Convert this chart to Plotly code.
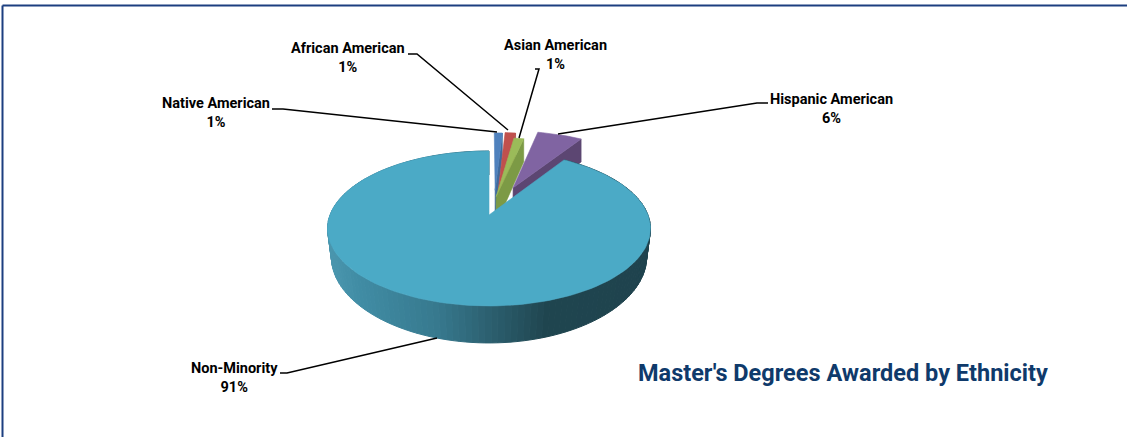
import math
import plotly.graph_objects as go

# ---- data ----
categories = ["Native American", "African American", "Asian American", "Hispanic American", "Non-Minority"]
percent_values = [1.0, 1.3, 1.2, 5.6, 90.9]
top_colors = ["#4F81BD", "#C0504D", "#9BBB59", "#8064A2", "#4BAAC6"]
face_colors = ["#3F6A9C", "#9E403D", "#7C9A45", "#5C4672", "#2D6171"]
explosions = [0.35, 0.36, 0.26, 0.42, 0.0]
side_shifts = [0.03, 0.025, 0.0, 0.0, 0.0]
chart_title = "Master's Degrees Awarded by Ethnicity"

# ---- projection of the tilted pie (pixel-like axes) ----
APEX_X, APEX_Y, K, A, B = 489.0, 215.0, 0.174, 75.1, 159.0
FONT = "Roboto, Liberation Sans, Arial"


def project(u, v):
    w = 1 + K * v
    return APEX_X + B * u / w, APEX_Y - A * v / w


def drop(x, y):
    s = 1 - 0.00027 * (y - 139)
    return APEX_X + s * (x - APEX_X), y + 23 + 0.084 * (y - 139)


def hex_rgb(c):
    return tuple(int(c[i:i + 2], 16) for i in (1, 3, 5))


RIM_STOPS = [(330, "#4A96AE"), (357, "#418DA5"), (437, "#37798E"), (487, "#2D6171"), (547, "#204650"), (650, "#1F434E")]


def rim_color(x):
    for (x0, c0), (x1, c1) in zip(RIM_STOPS, RIM_STOPS[1:]):
        if x <= x1:
            t = max(0, (x - x0) / (x1 - x0))
            a, b = hex_rgb(c0), hex_rgb(c1)
            return "rgb(%d,%d,%d)" % tuple(a[i] + t * (b[i] - a[i]) for i in range(3))
    return RIM_STOPS[-1][1]


fig = go.Figure()


def poly(pts, fill, line=None, width=0.6):
    xs = [p[0] for p in pts] + [pts[0][0]]
    ys = [p[1] for p in pts] + [pts[0][1]]
    fig.add_trace(go.Scatter(x=xs, y=ys, mode="lines", fill="toself", fillcolor=fill,
                             line=dict(color=line or fill, width=width),
                             hoverinfo="skip", showlegend=False))


total = sum(percent_values)
start = 0.0
for i, (name, val) in enumerate(zip(categories, percent_values)):
    end = start + val / total * 360
    a0, a1 = math.radians(start), math.radians(end)
    mid = (a0 + a1) / 2
    e = explosions[i]
    du = side_shifts[i] + e * math.sin(mid)
    dv = e * math.cos(mid)
    n = max(3, int((end - start) / 2))
    angles = [a0 + (a1 - a0) * j / n for j in range(n + 1)]
    arc = [project(du + math.sin(a), dv + math.cos(a)) for a in angles]
    apex = project(du, dv)
    if i < 4:
        poly([apex, arc[-1], drop(*arc[-1]), drop(*apex)], face_colors[i])
        poly([apex] + arc, top_colors[i])
    else:
        for p, q in zip(arc, arc[1:]):
            poly([p, q, drop(*q), drop(*p)], rim_color((p[0] + q[0]) / 2), width=1)
        poly([apex] + arc, top_colors[i])
    start = end

# leader lines
leaders = [
    [(272, 109), (283, 109), (497, 132)],
    [(408, 54), (417, 54), (508, 130)],
    [(535, 69), (539, 69), (519, 138)],
    [(768, 103), (757, 103), (558, 134)],
    [(280, 373), (287, 373), (437, 338)],
]
for pts in leaders:
    fig.add_trace(go.Scatter(x=[p[0] for p in pts], y=[p[1] for p in pts], mode="lines",
                             line=dict(color="#000000", width=1.5), hoverinfo="skip", showlegend=False))

label_pos = [(216, 113), (348, 58), (555, 55), (831, 109), (234, 378)]
annotations = [
    dict(x=x, y=y, xref="x", yref="y", showarrow=False, xanchor="center", yanchor="middle",
         text=f"<b>{name}</b><br><b>{round(val)}%</b>",
         font=dict(family=FONT, size=14.5, color="#000000"))
    for name, val, (x, y) in zip(categories, percent_values, label_pos)
]
annotations.append(dict(x=842.5, y=373, xref="x", yref="y", showarrow=False, xanchor="center", yanchor="middle",
                        text=f"<b>{chart_title}</b>", font=dict(family=FONT, size=23.5, color="#0F3A6B")))

shapes = [
    dict(type="line", xref="x", yref="y", x0=2.5, x1=1127, y0=5.5, y1=5.5, line=dict(color="#1C3F80", width=2)),
    dict(type="line", xref="x", yref="y", x0=2.5, x1=2.5, y0=5.5, y1=437, line=dict(color="#1C3F80", width=2)),
]

fig.update_layout(
    width=1127, height=437, margin=dict(l=0, r=0, t=0, b=0),
    paper_bgcolor="#FFFFFF", plot_bgcolor="#FFFFFF", showlegend=False,
    xaxis=dict(range=[0, 1127], visible=False, fixedrange=True),
    yaxis=dict(range=[437, 0], visible=False, fixedrange=True),
    annotations=annotations, shapes=shapes,
)
fig.write_html("out.html", config={"displayModeBar": False},
               post_script="document.body.style.margin='0';document.body.style.overflow='hidden';")
